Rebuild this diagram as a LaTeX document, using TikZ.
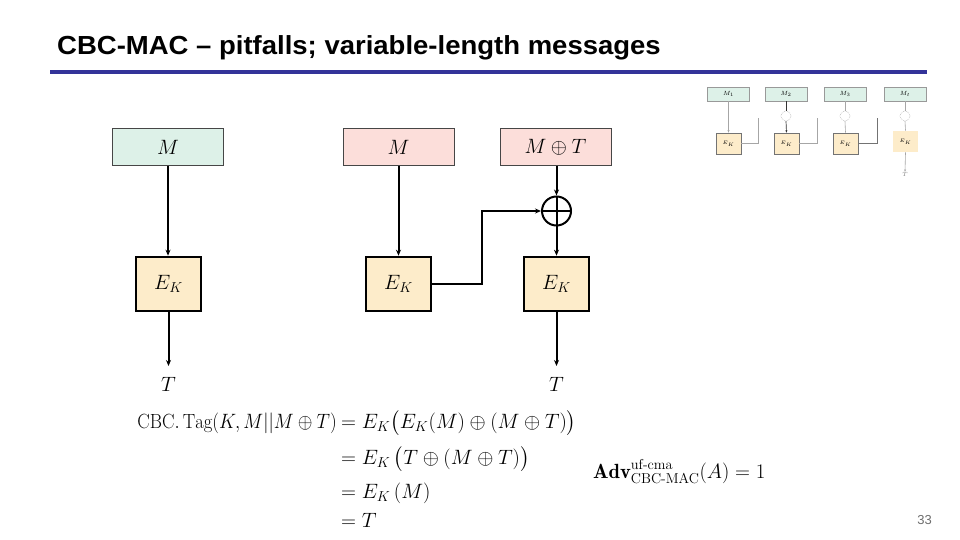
\documentclass[tikz,border=0pt]{standalone}
\usepackage{fontspec}
\usepackage{amsmath}
\newfontfamily\titlefont{Liberation Sans}
\usetikzlibrary{arrows.meta,calc}
\definecolor{titleblue}{RGB}{51,51,153}
\definecolor{mgreen}{RGB}{221,241,232}
\definecolor{mpink}{RGB}{252,222,218}
\definecolor{ekfill}{RGB}{253,236,202}
\definecolor{boxgray}{RGB}{70,70,70}
\definecolor{pagegray}{RGB}{110,110,110}
\tikzset{
  msgbox/.style={draw=boxgray,line width=1pt,minimum width=111pt,minimum height=37pt,inner sep=0pt},
  ekbox/.style={draw=black,line width=2.6pt,fill=ekfill,minimum width=65pt,minimum height=54pt,inner sep=0pt},
  conn/.style={line width=2pt,-{Stealth[length=6pt,width=5pt]}},
  bigmath/.style={font=\fontsize{21}{25}\selectfont,inner sep=0pt},
  eqtext/.style={font=\fontsize{20.5}{24}\selectfont,inner sep=0pt},
  thm/.style={draw=gray!80,line width=0.5pt,fill=mgreen,minimum width=42pt,minimum height=14pt,inner sep=0pt,font=\fontsize{6}{7}\selectfont},
  the/.style={draw=gray!90!black,line width=0.6pt,fill=ekfill,minimum width=25pt,minimum height=21pt,inner sep=0pt,font=\fontsize{5}{6}\selectfont},
  thl/.style={gray!70,line width=0.6pt},
  thx/.style={gray!70,line width=0.5pt,densely dotted},
}
\begin{document}
\begin{tikzpicture}[x=1pt,y=-1pt]
\useasboundingbox[fill=white] (0,0) rectangle (960,540);
% title
\node[anchor=base west,inner sep=0pt,font=\titlefont\bfseries\fontsize{27.5}{32}\selectfont] (title) at (57,55) {\scalebox{1.0}[0.95]{CBC-MAC – pitfalls; variable-length messages}};
\draw[titleblue,line width=4pt] (50,72) -- (927,72);

% left chain
\node[msgbox,fill=mgreen,bigmath] (m1) at (168,147.5) {$M$};
\node[ekbox,bigmath] (e1) at (168.5,284) {$E_K$};
\coordinate (t1a) at (168.5,366);
\node[bigmath] (t1) at (168.5,384) {$T$};
\draw[conn] (m1.south) -- (m1.south |- e1.north);
\draw[conn] (e1.south) -- (t1a);

% right chain
\node[msgbox,fill=mpink,bigmath] (m2) at (398.5,147.5) {$M$};
\node[msgbox,fill=mpink,bigmath] (m3) at (555.5,147.5) {$M \oplus T$};
\node[ekbox,bigmath] (e2) at (398.5,284) {$E_K$};
\node[ekbox,bigmath] (e3) at (556.5,284) {$E_K$};
\node[draw,circle,line width=2pt,minimum size=29pt,inner sep=0pt] (x) at (556.5,211) {};
\draw[line width=2pt] (x.north) -- (x.south) (x.west) -- (x.east);
\coordinate (t3a) at (556.5,366);
\node[bigmath] (t3) at (556.5,384) {$T$};
\coordinate (bend1) at (482,285);
\coordinate (bend2) at (482,211);
\draw[conn] (m2.south) -- (m2.south |- e2.north);
\draw[conn] (m3.south -| x.north) -- (x.north);
\draw[conn] (x.south) -- (x.south |- e3.north);
\draw[conn] (e2.east) -- (e2.east -| bend1) -- (bend2) -- (x.west);
\draw[conn] (e3.south) -- (t3a);

% equations
\node[eqtext,anchor=base east] (eq1l) at (337,428) {\scalebox{0.91}[1]{$\mathrm{CBC.\,Tag}(K,M||M\oplus T)$}};
\node[eqtext,anchor=base west] (eq1r) at (341,428) {$= E_K\bigl(E_K(M)\oplus(M\oplus T)\bigr)$};
\node[eqtext,anchor=base west] (eq2) at (341,464) {$= E_K\,\bigl(T\oplus(M\oplus T)\bigr)$};
\node[eqtext,anchor=base west] (eq3) at (341,498) {$= E_K\,(M)$};
\node[eqtext,anchor=base west] (eq4) at (341,527) {$= T$};
\node[eqtext,anchor=base west] (adv) at (593,478) {$\mathbf{Adv}^{\text{uf-cma}}_{\text{CBC-MAC}}(A) = 1$};

% page number
\node[anchor=base east,inner sep=0pt,text=pagegray,font=\titlefont\fontsize{13}{15}\selectfont] (pg) at (932,524) {33};

% thumbnail
\node[thm] (tm1) at (728.5,94) {$M_1$};
\node[thm] (tm2) at (786,94) {$M_2$};
\node[thm] (tm3) at (845,94) {$M_3$};
\node[thm] (tm4) at (905,94) {$M_t$};
\node[the] (te1) at (728.5,143.5) {$E_K$};
\node[the] (te2) at (786.5,143.5) {$E_K$};
\node[the] (te3) at (845.5,143.5) {$E_K$};
\node[the,draw=none] (te4) at (905.5,141.5) {$E_K$};
\node[thx,draw,circle,minimum size=10pt,inner sep=0pt] (tx2) at (786,116) {};
\node[thx,draw,circle,minimum size=10pt,inner sep=0pt] (tx3) at (845,116) {};
\node[thx,draw,circle,minimum size=10pt,inner sep=0pt] (tx4) at (905,116) {};
\draw[thl,-{Stealth[length=2.5pt,width=2pt]}] (tm1.south) -- (te1.north);
\draw[black!80,line width=0.7pt] (tm2.south) -- (tx2.north);
\draw[black!80,line width=0.7pt,-{Stealth[length=2.5pt,width=2pt]}] (tx2.south) -- (te2.north);
\draw[thl] (tm3.south) -- (tx3.north);
\draw[thl] (tx3.south) -- (te3.north);
\draw[thl] (tm4.south) -- (tx4.north);
\draw[thl] (tx4.south) -- (te4.north);
\coordinate (tc1) at (758,118);
\coordinate (tc2) at (817,118);
\coordinate (tc3) at (877,118);
\draw[thl] (te1.east) -- (te1.east -| tc1) -- (tc1);
\draw[thl] (te2.east) -- (te2.east -| tc2) -- (tc2);
\draw[gray!90!black,line width=0.8pt] (te3.east) -- (te3.east -| tc3) -- (tc3);
\node[inner sep=0pt,font=\fontsize{6}{7}\selectfont,text=gray] (tt) at (905,174) {$T$};
\draw[thl,-{Stealth[length=2.5pt,width=2pt]}] (te4.south) -- (tt.north);
\end{tikzpicture}
\end{document}
